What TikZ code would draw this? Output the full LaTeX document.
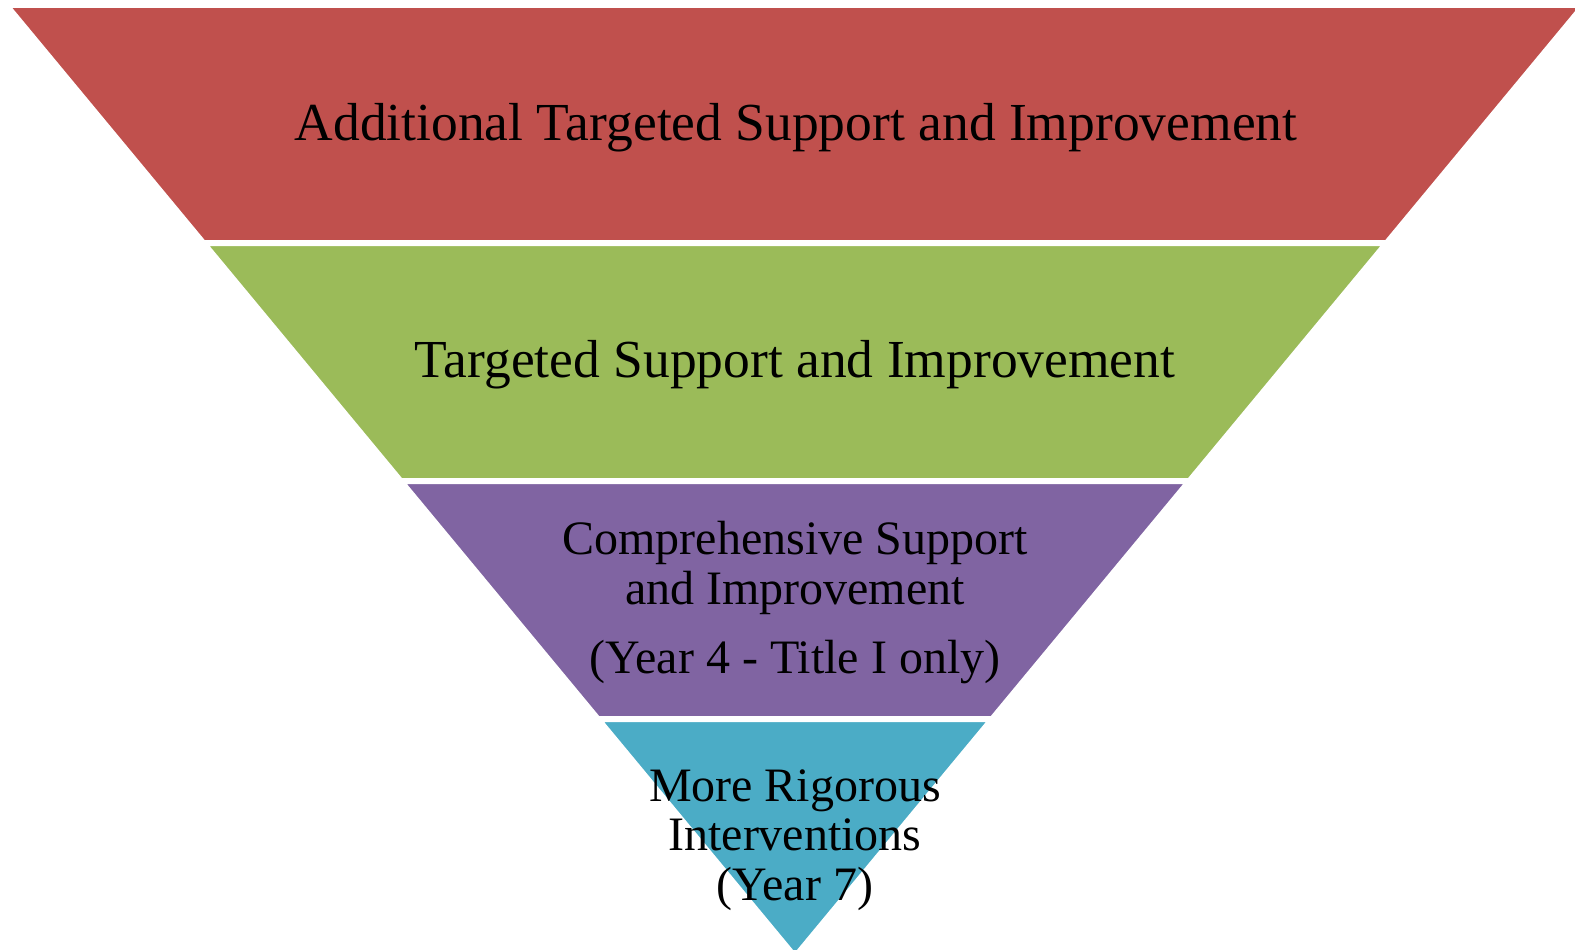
\documentclass[tikz,border=0pt]{standalone}
\usepackage{fontspec}
\setmainfont{Liberation Serif}
\usetikzlibrary{calc}

\definecolor{tierred}{HTML}{C0504D}
\definecolor{tiergreen}{HTML}{9BBB59}
\definecolor{tierpurple}{HTML}{8064A2}
\definecolor{tiercyan}{HTML}{4BACC6}

\begin{document}
\begin{tikzpicture}[
    x=1pt, y=-1pt,
    band/.style={draw=white, line width=6pt, line join=round},
    bigtext/.style={inner sep=0pt, align=center, font=\fontsize{53.5}{60}\selectfont},
    smalltext/.style={inner sep=0pt, align=center, font=\fontsize{48}{49.5}\selectfont}
]
\useasboundingbox (0,0) rectangle (1575,950);

% outline of the funnel, cut into four equal bands
\coordinate (tl) at (6,5);
\coordinate (tr) at (1584,5);
\coordinate (apex) at (795,957);
\coordinate (l1) at ($(tl)!0.25!(apex)$);
\coordinate (r1) at ($(tr)!0.25!(apex)$);
\coordinate (l2) at ($(tl)!0.5!(apex)$);
\coordinate (r2) at ($(tr)!0.5!(apex)$);
\coordinate (l3) at ($(tl)!0.75!(apex)$);
\coordinate (r3) at ($(tr)!0.75!(apex)$);

\filldraw[band, fill=tierred] (tl) -- (tr) -- (r1) -- (l1) -- cycle;
\filldraw[band, fill=tiergreen] (l1) -- (r1) -- (r2) -- (l2) -- cycle;
\filldraw[band, fill=tierpurple] (l2) -- (r2) -- (r3) -- (l3) -- cycle;
\filldraw[band, fill=tiercyan] (l3) -- (r3) -- (apex) -- cycle;

\node[bigtext, anchor=base] (atsi) at (796,140) {Additional Targeted Support and Improvement};
\node[bigtext, anchor=base] (tsi) at (795,377) {Targeted Support and Improvement};
\node[smalltext] (csi) at (795,603) {Comprehensive Support\\and Improvement\\[20pt](Year 4 - Title I only)};
\node[smalltext] (mri) at (795,840) {More Rigorous\\Interventions\\(Year 7)};
\end{tikzpicture}
\end{document}
